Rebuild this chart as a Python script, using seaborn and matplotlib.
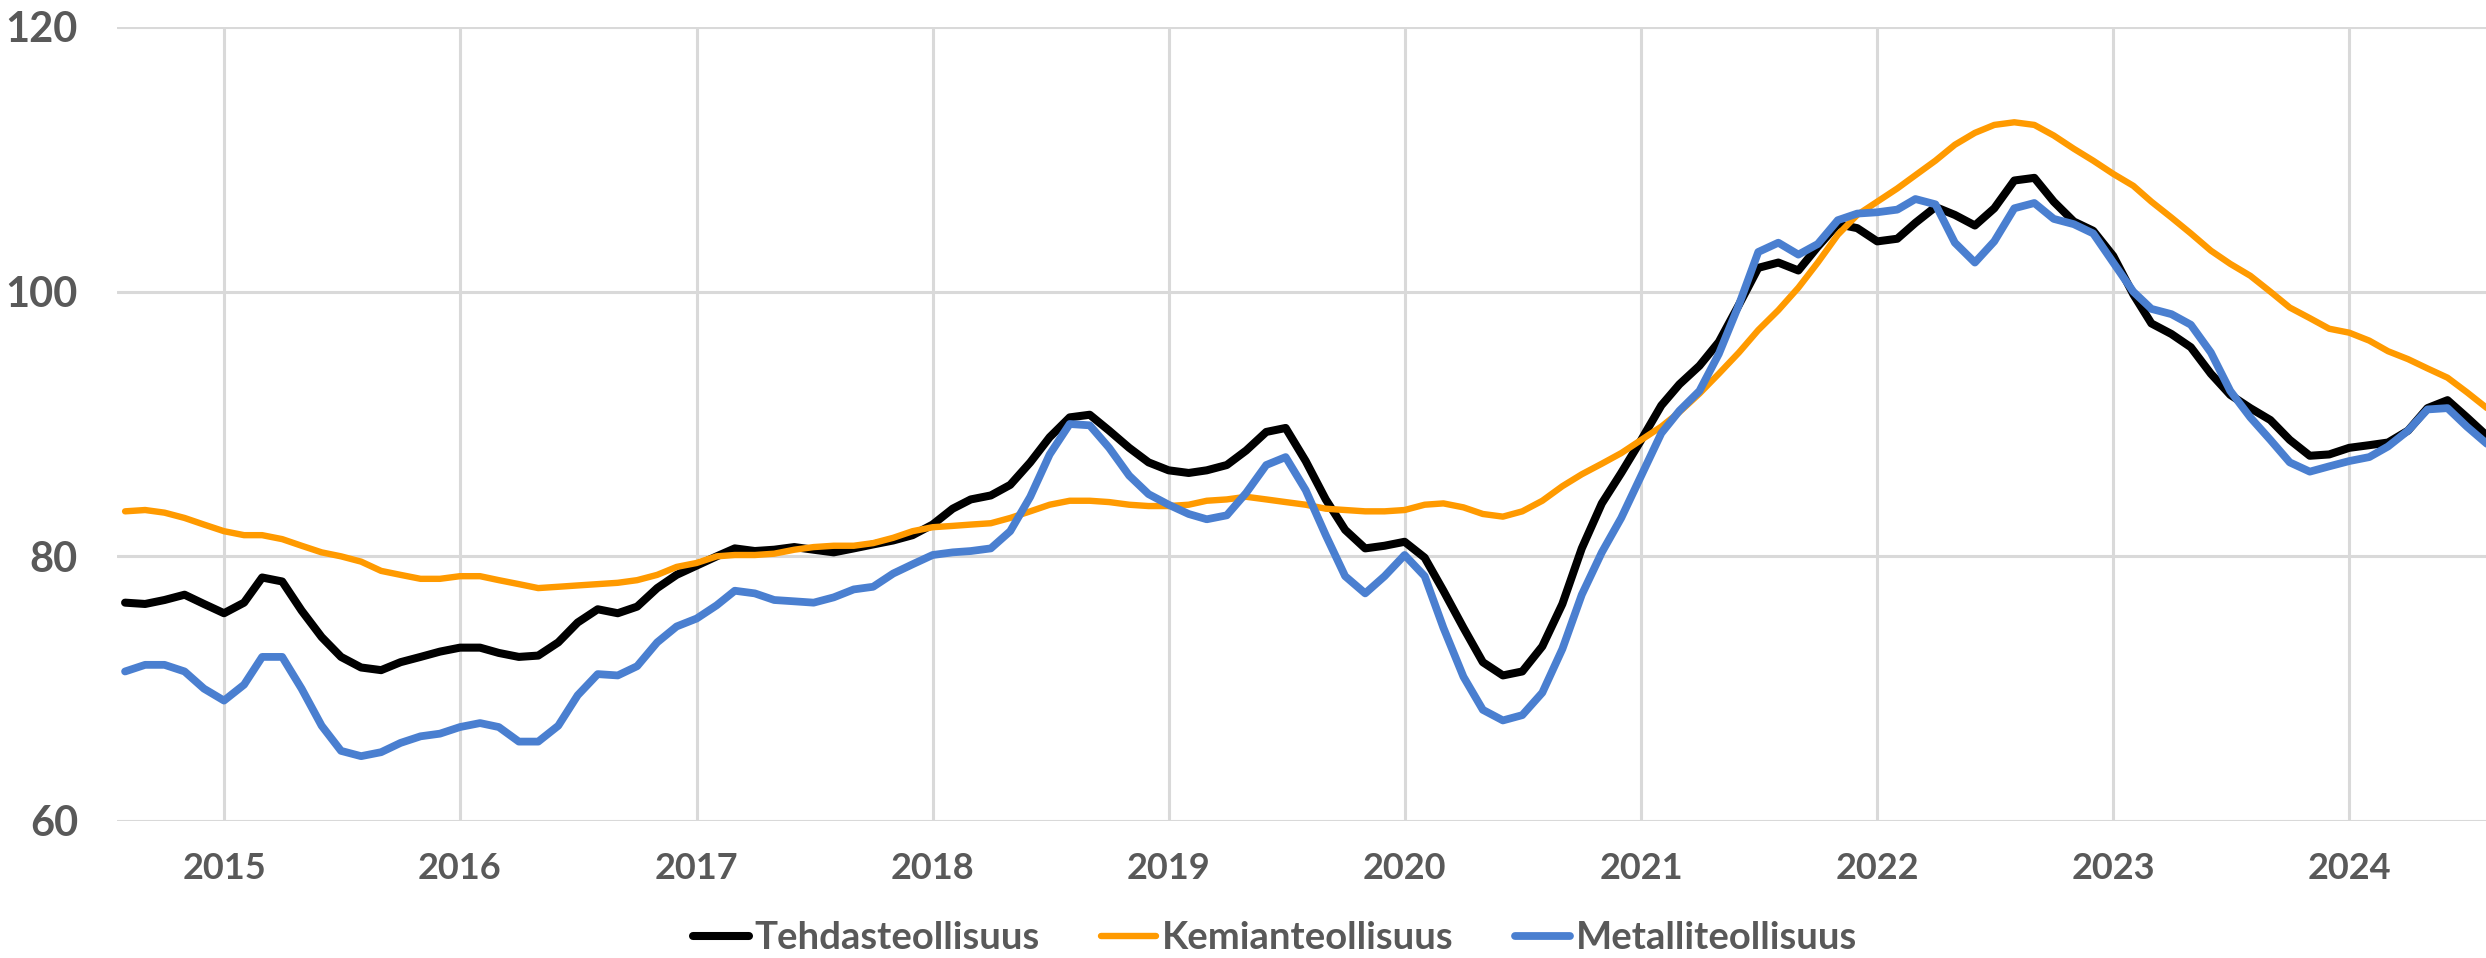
import numpy as np
import pandas as pd
import matplotlib
matplotlib.use("Agg")
import matplotlib.pyplot as plt
import seaborn as sns

# ---- data (monthly index, Aug 2014 .. Aug 2024) ----
start_month = "2014-08-01"
series_names = ["Tehdasteollisuus", "Kemianteollisuus", "Metalliteollisuus"]

tehdas = [
    76.5, 76.4, 76.7, 77.1, 76.4, 75.7, 76.5, 78.4, 78.1, 75.9,
    73.9, 72.4, 71.6, 71.4, 72.0, 72.4, 72.8, 73.1, 73.1, 72.7,
    72.4, 72.5, 73.5, 75.0, 76.0, 75.7, 76.2, 77.6, 78.6, 79.3,
    80.0, 80.6, 80.4, 80.5, 80.7, 80.5, 80.3, 80.6, 80.9, 81.2,
    81.6, 82.4, 83.6, 84.3, 84.6, 85.4, 87.1, 89.0, 90.5, 90.7,
    89.5, 88.2, 87.1, 86.5, 86.3, 86.5, 86.9, 88.0, 89.4, 89.7,
    87.2, 84.3, 82.0, 80.6, 80.8, 81.1, 79.9, 77.4, 74.6, 72.0,
    71.0, 71.3, 73.2, 76.4, 80.6, 84.0, 86.3, 88.8, 91.4, 93.0,
    94.4, 96.2, 99.0, 101.8, 102.2, 101.6, 103.4, 105.1, 104.8, 103.8,
    104.0, 105.2, 106.4, 105.8, 105.0, 106.3, 108.4, 108.6, 106.8, 105.3,
    104.6, 102.7, 99.8, 97.6, 96.8, 95.8, 93.8, 92.2, 91.2, 90.3,
    88.8, 87.6, 87.7, 88.2, 88.4, 88.6, 89.5, 91.2, 91.8, 90.5,
    89.1,
]

kemia = [
    83.4, 83.5, 83.3, 82.9, 82.4, 81.9, 81.6, 81.6, 81.3, 80.8,
    80.3, 80.0, 79.6, 78.9, 78.6, 78.3, 78.3, 78.5, 78.5, 78.2,
    77.9, 77.6, 77.7, 77.8, 77.9, 78.0, 78.2, 78.6, 79.2, 79.5,
    80.0, 80.1, 80.1, 80.2, 80.5, 80.7, 80.8, 80.8, 81.0, 81.4,
    81.9, 82.2, 82.3, 82.4, 82.5, 82.9, 83.4, 83.9, 84.2, 84.2,
    84.1, 83.9, 83.8, 83.8, 83.9, 84.2, 84.3, 84.5, 84.3, 84.1,
    83.9, 83.6, 83.5, 83.4, 83.4, 83.5, 83.9, 84.0, 83.7, 83.2,
    83.0, 83.4, 84.2, 85.3, 86.2, 87.0, 87.8, 88.8, 89.8, 90.9,
    92.3, 93.8, 95.4, 97.1, 98.6, 100.3, 102.2, 104.3, 105.8, 106.8,
    107.8, 108.8, 109.9, 111.1, 112.0, 112.6, 112.8, 112.6, 111.8, 110.8,
    109.9, 108.9, 108.0, 106.8, 105.6, 104.4, 103.1, 102.1, 101.2, 100.0,
    98.8, 98.0, 97.2, 96.9, 96.3, 95.5, 94.9, 94.2, 93.5, 92.4,
    91.2,
]

metalli = [
    71.3, 71.8, 71.8, 71.3, 70.0, 69.1, 70.3, 72.4, 72.4, 70.0,
    67.2, 65.3, 64.9, 65.2, 65.9, 66.4, 66.6, 67.1, 67.4, 67.1,
    66.0, 66.0, 67.2, 69.5, 71.1, 71.0, 71.7, 73.5, 74.7, 75.3,
    76.3, 77.4, 77.2, 76.7, 76.6, 76.5, 76.9, 77.5, 77.7, 78.7,
    79.4, 80.1, 80.3, 80.4, 80.6, 81.9, 84.5, 87.7, 90.0, 89.9,
    88.2, 86.1, 84.7, 83.9, 83.2, 82.8, 83.1, 84.8, 86.9, 87.5,
    85.0, 81.6, 78.5, 77.2, 78.5, 80.1, 78.5, 74.6, 70.9, 68.4,
    67.6, 68.0, 69.7, 73.0, 77.1, 80.3, 82.9, 86.1, 89.3, 91.0,
    92.5, 95.3, 99.0, 103.0, 103.7, 102.8, 103.6, 105.4, 105.9, 106.0,
    106.2, 107.0, 106.6, 103.7, 102.2, 103.8, 106.3, 106.7, 105.5, 105.1,
    104.4, 102.2, 100.0, 98.7, 98.3, 97.5, 95.4, 92.5, 90.5, 88.8,
    87.1, 86.4, 86.8, 87.2, 87.5, 88.3, 89.5, 91.1, 91.2, 89.8,
    88.5,
]

year_ticks = list(range(2015, 2025))
y_ticks = [60, 80, 100, 120]

colors = ["#000000", "#FF9A00", "#4A7FD0"]
widths = [5.8, 4.6, 5.6]

# ---- build frame ----
dates = pd.date_range(start_month, periods=len(tehdas), freq="MS")
df = pd.DataFrame({"date": dates,
                   series_names[0]: tehdas,
                   series_names[1]: kemia,
                   series_names[2]: metalli})

sns.set_style("white")
plt.rcParams["font.family"] = ["Lato", "DejaVu Sans"]
text_color = "#595959"

fig = plt.figure(figsize=(24.86, 9.58), dpi=100)
ax = fig.add_axes([117 / 2486, 1 - 821 / 958, 1 - 117 / 2486, (821 - 27) / 958])

for name, c, w in zip(series_names, colors, widths):
    sns.lineplot(data=df, x="date", y=name, ax=ax, color=c, linewidth=w,
                 label=name, legend=False,
                 solid_capstyle="round", solid_joinstyle="round")

ax.set_ylim(60, 120)
ax.set_yticks(y_ticks)
ax.set_xticks([pd.Timestamp(f"{y}-01-01") for y in year_ticks])
ax.set_xticklabels([str(y) for y in year_ticks])
ax.set_xlim(pd.Timestamp(start_month) - pd.Timedelta(days=12.5),
            pd.Timestamp(start_month) + pd.Timedelta(days=119.97 * 30.437))

ax.grid(True, color="#D9D9D9", linewidth=2.2)
ax.set_axisbelow(True)
for s in ax.spines.values():
    s.set_visible(False)
ax.set_xlabel("")
ax.set_ylabel("")
ax.tick_params(axis="y", length=0, pad=28, labelsize=30, labelcolor=text_color)
ax.tick_params(axis="x", length=0, pad=22, labelsize=26, labelcolor=text_color)
for lab in ax.get_xticklabels() + ax.get_yticklabels():
    lab.set_fontweight("bold")

leg = fig.legend(*ax.get_legend_handles_labels(), loc="center",
                 bbox_to_anchor=(0.513, 1 - 938 / 958), ncol=3, frameon=False,
                 handlelength=1.45, handletextpad=0.15,
                 columnspacing=1.6, labelcolor=text_color,
                 prop={"weight": "bold", "size": 27.5})

fig.savefig("out.png", dpi=100)
